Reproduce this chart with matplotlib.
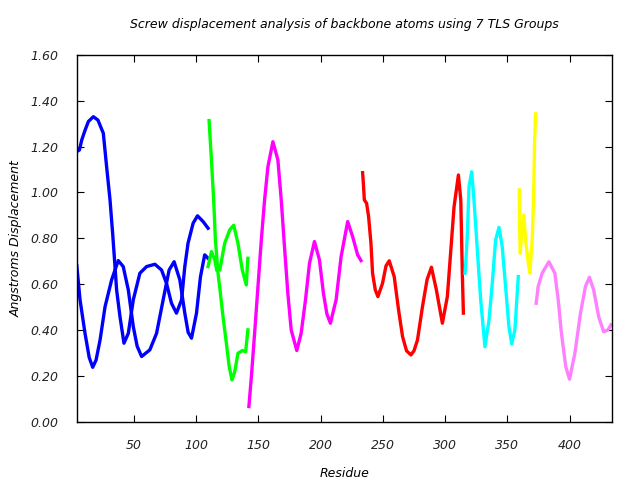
import numpy as np
import matplotlib
matplotlib.use("Agg")
import matplotlib.pyplot as plt

# residue / displacement, one list per TLS group line
g1a_res = [4, 6.1, 8, 10.7, 13.3, 17.3, 21, 25.3, 28, 30.7, 32.8, 34.7, 36, 38.7, 41.9, 45.4, 49.4,
           54.7, 60.1, 66.8, 72.1, 76.1, 80.1, 84.1, 88.2, 90.8, 93.4, 97.5, 101, 105.5, 109.5]
g1a_val = [1.178, 1.185, 1.229, 1.272, 1.309, 1.33, 1.315, 1.258, 1.11, 0.967, 0.822, 0.677, 0.575,
           0.459, 0.343, 0.386, 0.532, 0.648, 0.677, 0.687, 0.662, 0.604, 0.517, 0.474, 0.532,
           0.677, 0.779, 0.866, 0.898, 0.873, 0.844]
g1b_res = [4, 6.6, 10.6, 14, 16.8, 19.5, 22.7, 26.7, 32, 37.3, 41.3, 45.4, 49.4, 52.5, 56.1, 62.7,
           68.1, 73.4, 78.2, 82.2, 86.8, 90.8, 93.5, 96.2, 100.2, 103.4, 106.8, 109.5]
g1b_val = [0.681, 0.532, 0.386, 0.28, 0.238, 0.27, 0.357, 0.502, 0.619, 0.703, 0.677, 0.575, 0.415,
           0.33, 0.285, 0.314, 0.386, 0.532, 0.662, 0.698, 0.619, 0.474, 0.39, 0.365, 0.474, 0.633,
           0.728, 0.713]
g2a_res = [110.3, 112.2, 114, 115.4, 117.5, 119.4, 121.5, 124.2, 126.5, 128.7, 131, 133.5, 137,
           139.7, 141.5]
g2a_val = [1.313, 1.142, 0.967, 0.793, 0.648, 0.561, 0.459, 0.343, 0.24, 0.183, 0.22, 0.299, 0.311,
           0.306, 0.401]
g2b_res = [109.5, 112.2, 114.9, 116.5, 118.9, 122.9, 126.9, 130.1, 133.5, 137, 140.2, 141.5]
g2b_val = [0.677, 0.742, 0.706, 0.66, 0.662, 0.779, 0.837, 0.857, 0.779, 0.662, 0.597, 0.713]
g3_res = [142.3, 144.3, 146.9, 149.6, 152.3, 154.9, 157.6, 161.6, 165.6, 168.3, 170.9, 173.6,
          176.3, 180.8, 184.3, 187.8, 191, 195, 199, 202.2, 205, 207.8, 212.4, 216.4, 221.7,
          225.7, 229.7, 232.4]
g3_val = [0.067, 0.197, 0.386, 0.59, 0.793, 0.967, 1.112, 1.221, 1.142, 0.967, 0.764, 0.561, 0.401,
          0.311, 0.386, 0.532, 0.691, 0.786, 0.706, 0.561, 0.47, 0.43, 0.532, 0.72, 0.873, 0.807,
          0.728, 0.703]
g4_res = [233.7, 234.3, 235.1, 236.9, 238.5, 240.4, 241.7, 243.9, 246, 249.7, 252.5, 255.1, 259.1,
          262.6, 265.8, 269, 272.5, 275, 277.8, 281.8, 285.5, 289, 293, 297.8, 301.8, 304.6, 307.2,
          310.7, 312.6, 313.9, 314.7]
g4_val = [1.086, 1.04, 0.967, 0.953, 0.895, 0.779, 0.648, 0.575, 0.546, 0.604, 0.68, 0.702, 0.633,
          0.488, 0.372, 0.31, 0.292, 0.31, 0.357, 0.502, 0.62, 0.674, 0.575, 0.43, 0.546, 0.749,
          0.938, 1.076, 0.967, 0.633, 0.474]
g5_res = [316, 316.6, 317.9, 319.2, 321.4, 323.2, 325.9, 328.6, 332, 335.3, 337.9, 340.6, 343.3,
          345.9, 348.6, 351.3, 353.5, 356.1, 358.8]
g5_val = [0.648, 0.691, 0.822, 1.025, 1.09, 0.967, 0.749, 0.532, 0.328, 0.444, 0.604, 0.793, 0.848,
          0.764, 0.59, 0.415, 0.34, 0.401, 0.633]
g6_res = [359.6, 359.9, 360.4, 361.5, 363.3, 364.7, 366.5, 368.1, 370, 371.1, 371.9, 372.7]
g6_val = [1.011, 0.837, 0.735, 0.822, 0.902, 0.793, 0.706, 0.648, 0.793, 0.967, 1.214, 1.342]
g7_res = [373.2, 374.8, 378, 383.4, 388.2, 390.9, 393.5, 397, 400, 404.3, 408.8, 412.8, 416, 419.4,
          423.4, 427.4, 430.9, 433.3]
g7_val = [0.517, 0.59, 0.648, 0.698, 0.648, 0.532, 0.386, 0.24, 0.186, 0.299, 0.474, 0.59, 0.63,
          0.575, 0.459, 0.393, 0.401, 0.423]

groups = [
    (g1a_res, g1a_val, "#0000ff"),
    (g1b_res, g1b_val, "#0000ff"),
    (g2a_res, g2a_val, "#00ff00"),
    (g2b_res, g2b_val, "#00ff00"),
    (g3_res, g3_val, "#ff00ff"),
    (g4_res, g4_val, "#ff0000"),
    (g5_res, g5_val, "#00ffff"),
    (g6_res, g6_val, "#ffff00"),
    (g7_res, g7_val, "#ff80ff"),
]

plt.rcParams['font.family'] = "DejaVu Sans"
plt.rcParams['font.style'] = "italic"

fig = plt.figure(figsize=(6.4, 4.8), dpi=100)
ax = fig.add_axes([0.12, 0.121, 0.836, 0.765])

for res, val, col in groups:
    ax.plot(res, val, color=col, lw=2.4)

ax.set_xlim(4, 434)
ax.set_ylim(0, 1.6)
ax.set_xticks(np.arange(50, 401, 50))
ax.set_yticks(np.arange(0, 1.61, 0.2))
ax.set_yticklabels(["%.2f" % v for v in np.arange(0, 1.61, 0.2)])
ax.tick_params(direction='in', top=True, right=True, length=5, width=0.8,
               labelsize=9, colors='black')
ax.tick_params(axis='y', pad=13)
ax.tick_params(axis='x', pad=12)
for lab in ax.get_xticklabels() + ax.get_yticklabels():
    lab.set_color('#222222')
for sp in ax.spines.values():
    sp.set_linewidth(1.0)

ax.set_title('Screw displacement analysis of backbone atoms using 7 TLS Groups',
             fontsize=9, pad=19)
ax.set_xlabel('Residue', fontsize=9, labelpad=11)
ax.set_ylabel('Angstroms Displacement', fontsize=9, labelpad=6)

fig.savefig("out.png", dpi=100)
